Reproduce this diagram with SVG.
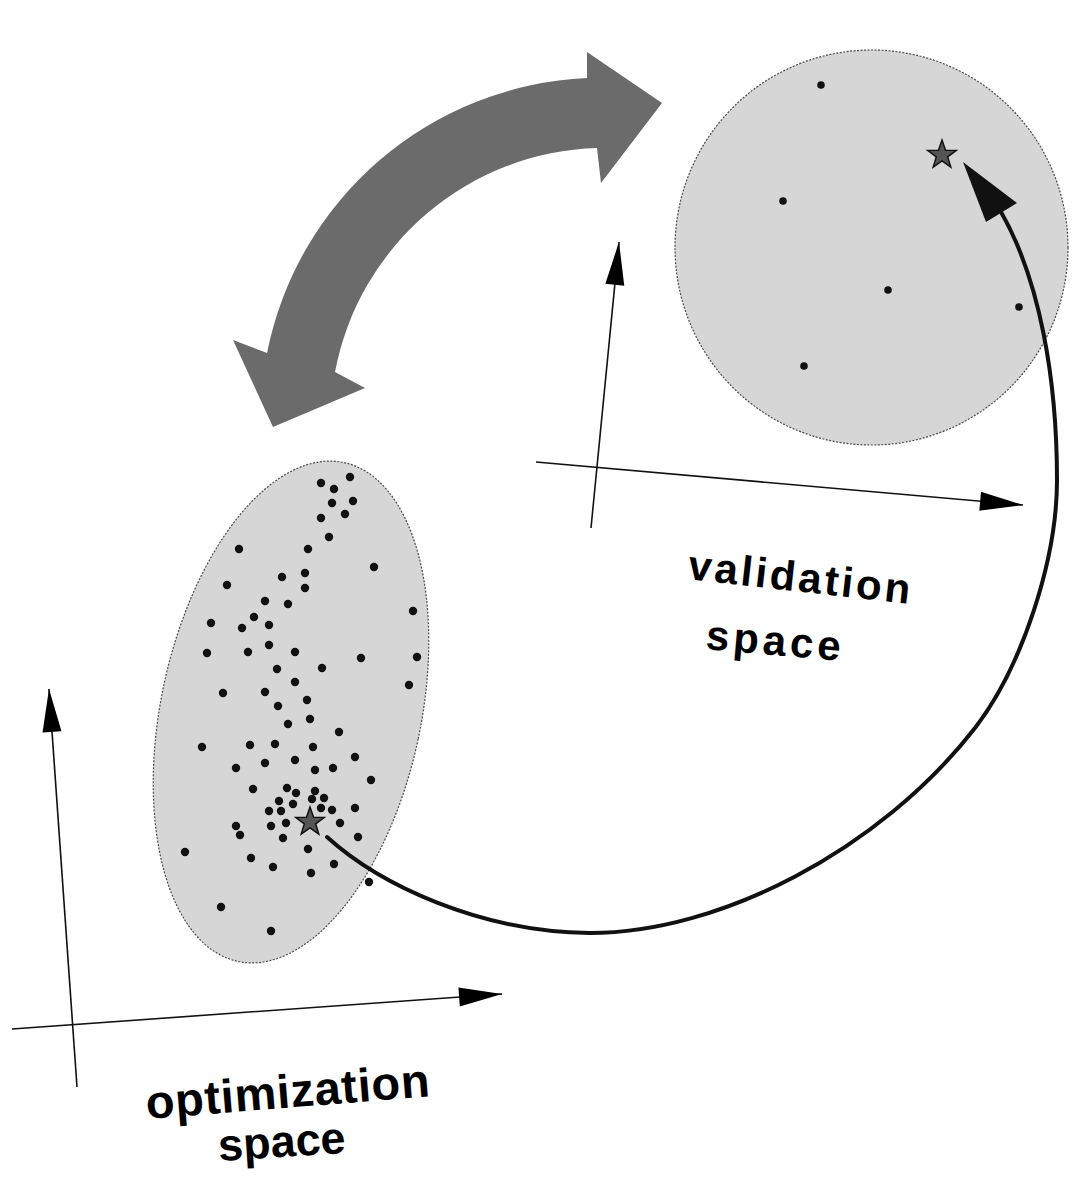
<svg xmlns="http://www.w3.org/2000/svg" width="1072" height="1185" viewBox="0 0 1072 1185">
<style>
.region{fill:#d6d6d6;stroke:#4a4a4a;stroke-width:1.2;stroke-dasharray:2 1.5}
.dot{fill:#111}
.vdot{fill:#111}
.star{fill:#555;stroke:#111;stroke-width:1.5;stroke-linejoin:miter}
.axis{fill:none;stroke:#111;stroke-width:1.6;marker-end:url(#axhead)}
.label{font-family:"Liberation Sans",Arial,sans-serif;font-weight:bold;fill:#000}
.big{fill:#6b6b6b}
.map{fill:none;stroke:#111;stroke-width:4;stroke-linecap:round}
</style>
<defs>
<marker id="axhead" markerUnits="userSpaceOnUse" viewBox="-45 -11 47 22" markerWidth="47" markerHeight="22" refX="0" refY="0" orient="auto">
<path d="M0,0 L-43,-9.5 L-43,9.5 Z" fill="#000"/>
</marker>
<path id="starshape" d="M0,-15 L3.53,-4.85 L14.27,-4.64 L5.71,1.85 L8.82,12.14 L0,6 L-8.82,12.14 L-5.71,1.85 L-14.27,-4.64 L-3.53,-4.85 Z"/>
</defs>
<rect width="1072" height="1185" fill="#fff"/>

<g id="validation-space">
<ellipse class="region" cx="871.5" cy="247.5" rx="196.5" ry="197.5"/>
<circle class="vdot" cx="821" cy="85" r="3.8"/>
<circle class="vdot" cx="783" cy="201" r="3.8"/>
<circle class="vdot" cx="888" cy="290" r="3.8"/>
<circle class="vdot" cx="1019" cy="307" r="3.8"/>
<circle class="vdot" cx="804" cy="366" r="3.8"/>
<use href="#starshape" class="star" transform="translate(942,155)"/>
<text class="label" x="687" y="579" font-size="42" letter-spacing="3" transform="rotate(6.4 687 579)">validation</text>
<text class="label" x="705" y="649" font-size="42" letter-spacing="4" transform="rotate(5 705 649)">space</text>
</g>

<g id="optimization-space">
<ellipse class="region" cx="291" cy="712" rx="130" ry="255" transform="rotate(12 291 712)"/>
<g class="dot">
<circle cx="350" cy="477" r="4.2"/><circle cx="321" cy="483" r="4.2"/><circle cx="334" cy="489" r="4.2"/>
<circle cx="332" cy="503" r="4.2"/><circle cx="353" cy="501" r="4.2"/><circle cx="321" cy="518" r="4.2"/>
<circle cx="345" cy="514" r="4.2"/><circle cx="329" cy="537" r="4.2"/><circle cx="239" cy="549" r="4.2"/>
<circle cx="308" cy="549" r="4.2"/><circle cx="374" cy="567" r="4.2"/><circle cx="282" cy="577" r="4.2"/>
<circle cx="305" cy="573" r="4.2"/><circle cx="227" cy="585" r="4.2"/><circle cx="305" cy="588" r="4.2"/>
<circle cx="265" cy="601" r="4.2"/><circle cx="288" cy="604" r="4.2"/><circle cx="413" cy="611" r="4.2"/>
<circle cx="211" cy="623" r="4.2"/><circle cx="254" cy="617" r="4.2"/><circle cx="242" cy="628" r="4.2"/>
<circle cx="269" cy="625" r="4.2"/><circle cx="269" cy="645" r="4.2"/><circle cx="207" cy="653" r="4.2"/>
<circle cx="248" cy="652" r="4.2"/><circle cx="295" cy="652" r="4.2"/><circle cx="361" cy="658" r="4.2"/>
<circle cx="417" cy="657" r="4.2"/><circle cx="277" cy="669" r="4.2"/><circle cx="322" cy="668" r="4.2"/>
<circle cx="295" cy="682" r="4.2"/><circle cx="409" cy="685" r="4.2"/><circle cx="223" cy="693" r="4.2"/>
<circle cx="265" cy="692" r="4.2"/><circle cx="307" cy="700" r="4.2"/><circle cx="278" cy="706" r="4.2"/>
<circle cx="310" cy="719" r="4.2"/><circle cx="288" cy="724" r="4.2"/><circle cx="339" cy="732" r="4.2"/>
<circle cx="202" cy="747" r="4.2"/><circle cx="250" cy="745" r="4.2"/><circle cx="275" cy="744" r="4.2"/>
<circle cx="313" cy="747" r="4.2"/><circle cx="355" cy="757" r="4.2"/><circle cx="236" cy="768" r="4.2"/>
<circle cx="265" cy="763" r="4.2"/><circle cx="295" cy="760" r="4.2"/><circle cx="315" cy="770" r="4.2"/>
<circle cx="333" cy="768" r="4.2"/><circle cx="371" cy="780" r="4.2"/><circle cx="253" cy="789" r="4.2"/>
<circle cx="287" cy="788" r="4.2"/><circle cx="296" cy="793" r="4.2"/><circle cx="315" cy="791" r="4.2"/>
<circle cx="279" cy="801" r="4.2"/><circle cx="293" cy="804" r="4.2"/><circle cx="312" cy="799" r="4.2"/>
<circle cx="324" cy="798" r="4.2"/><circle cx="269" cy="811" r="4.2"/><circle cx="281" cy="811" r="4.2"/>
<circle cx="321" cy="808" r="4.2"/><circle cx="332" cy="810" r="4.2"/><circle cx="355" cy="808" r="4.2"/>
<circle cx="271" cy="826" r="4.2"/><circle cx="286" cy="823" r="4.2"/><circle cx="236" cy="826" r="4.2"/>
<circle cx="240" cy="835" r="4.2"/><circle cx="283" cy="838" r="4.2"/><circle cx="340" cy="823" r="4.2"/>
<circle cx="358" cy="837" r="4.2"/><circle cx="185" cy="852" r="4.2"/><circle cx="308" cy="849" r="4.2"/>
<circle cx="251" cy="858" r="4.2"/><circle cx="273" cy="867" r="4.2"/><circle cx="334" cy="864" r="4.2"/>
<circle cx="311" cy="873" r="4.2"/><circle cx="369" cy="882" r="4.2"/><circle cx="221" cy="907" r="4.2"/>
<circle cx="271" cy="931" r="4.2"/>
</g>
<use href="#starshape" class="star" transform="translate(310,822)"/>
<text class="label" x="147" y="1119" font-size="47" letter-spacing="0.7" transform="rotate(-4.6 147 1119)">optimization</text>
<text class="label" x="219" y="1161" font-size="45" letter-spacing="0" transform="rotate(-3.7 219 1161)">space</text>
</g>

<g id="connectors">
<path id="exchange-arrow" class="big" d="M587,78 A342,342 0 0 0 267,353 L233,340 L273,427 L365,388 L335,372 A275,275 0 0 1 597,148 L601,183 L662,103 L587,52 Z"/>
<line class="axis" x1="77" y1="1087" x2="49" y2="689"/>
<line class="axis" x1="12" y1="1029" x2="502" y2="994"/>
<line class="axis" x1="591" y1="528" x2="619" y2="242"/>
<line class="axis" x1="536" y1="462" x2="1023" y2="505"/>
<path class="map" d="M327,837 C380,885 480,932 590,933 C720,933 880,850 975,728 C1022,667 1057,560 1057,480 C1057,380 1040,280 1001,212"/>
<polygon points="963,162 986,222 1017,203" fill="#111"/>
</g>
</svg>
